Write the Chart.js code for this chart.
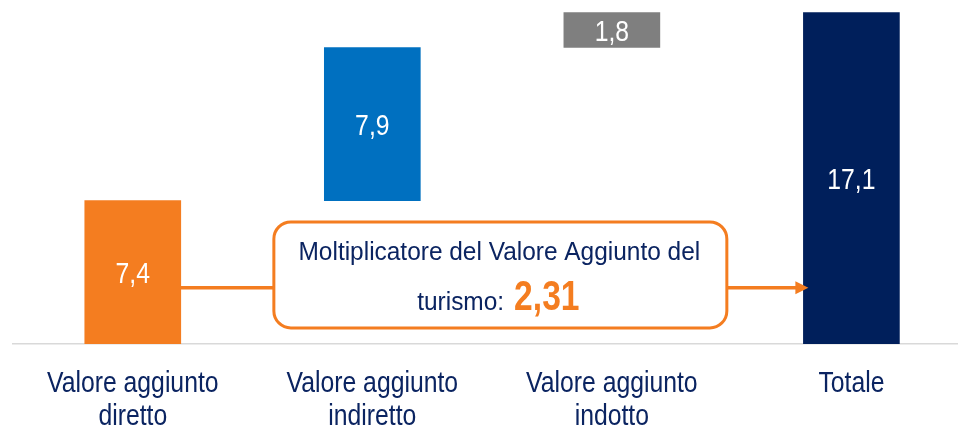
<!DOCTYPE html>
<html><head><meta charset="utf-8">
<script src="https://cdn.jsdelivr.net/npm/chart.js@4"></script>
<style>html,body{margin:0;padding:0;background:#fff;overflow:hidden}#wrap{width:958px;height:430px}</style>
</head><body><div id="wrap"><canvas id="c" width="958" height="430"></canvas></div>
<script>
// ---- data ----
const categories = [['Valore aggiunto','diretto'],['Valore aggiunto','indiretto'],['Valore aggiunto','indotto'],['Totale']];
const values = [7.4, 7.9, 1.8, 17.1];
const isTotal = [false, false, false, true];
const multiplier = '2,31';
const calloutLine1 = 'Moltiplicatore del Valore Aggiunto del';
const calloutLine2 = 'turismo:';

// ---- styles ----
const barColors = ['#F47D20', '#0070C0', '#7F7F7F', '#001F5B'];
const NAVY = '#0B2461';
const ORANGE = '#F47D20';
const FONT = "'Liberation Sans', Arial, sans-serif";
const SQUEEZE = 0.825; // Arial-Narrow-like horizontal compression

let running = 0;
const floating = values.map((v, i) => {
  const base = isTotal[i] ? 0 : running;
  if (!isTotal[i]) running += v;
  return { x: i, y: [base, base + v] };
});
const fmt = v => String(v).replace('.', ',');

function narrowText(ctx, text, x, y, sx, align) {
  ctx.save();
  ctx.translate(x, y);
  ctx.scale(sx, 1);
  ctx.textAlign = align || 'center';
  ctx.fillText(text, 0, 0);
  ctx.restore();
}

const valueLabels = {
  id: 'valueLabels',
  afterDatasetsDraw(chart) {
    const ctx = chart.ctx;
    const meta = chart.getDatasetMeta(0);
    ctx.save();
    ctx.fillStyle = '#FFFFFF';
    ctx.font = '30px ' + FONT;
    ctx.textBaseline = 'alphabetic';
    meta.data.forEach((el, i) => {
      narrowText(ctx, fmt(values[i]), el.x, (el.y + el.base) / 2 + 11, SQUEEZE, 'center');
    });
    ctx.restore();
  }
};

const tickLabels = {
  id: 'tickLabels',
  afterDraw(chart) {
    const ctx = chart.ctx;
    const xs = chart.scales.x;
    ctx.save();
    ctx.fillStyle = NAVY;
    ctx.font = '30px ' + FONT;
    ctx.textBaseline = 'alphabetic';
    xs.ticks.forEach(t => {
      const lines = categories[t.value];
      if (!lines) return;
      const x = xs.getPixelForValue(t.value);
      lines.forEach((ln, k) => {
        narrowText(ctx, ln, x, chart.chartArea.bottom + 48 + k * 33, SQUEEZE, 'center');
      });
    });
    ctx.restore();
  }
};

const callout = {
  id: 'callout',
  afterDatasetsDraw(chart) {
    const ctx = chart.ctx;
    const xs = chart.scales.x, ys = chart.scales.y;
    const meta = chart.getDatasetMeta(0);
    const b0 = meta.data[0], b3 = meta.data[3];
    const yLine = ys.getPixelForValue(2.9);
    const left = xs.getPixelForValue(0.589), right = xs.getPixelForValue(2.48);
    const top = ys.getPixelForValue(6.3), bottom = ys.getPixelForValue(0.83);
    ctx.save();
    ctx.strokeStyle = ORANGE;
    ctx.fillStyle = ORANGE;
    ctx.lineWidth = 3.5;
    ctx.beginPath();
    ctx.moveTo(b0.x + b0.width / 2, yLine);
    ctx.lineTo(left, yLine);
    ctx.moveTo(right, yLine);
    const tip = b3.x - b3.width / 2 + 5;
    ctx.lineTo(tip - 12, yLine);
    ctx.stroke();
    ctx.beginPath();
    ctx.moveTo(tip, yLine);
    ctx.lineTo(tip - 13, yLine - 6.5);
    ctx.lineTo(tip - 13, yLine + 6.5);
    ctx.closePath();
    ctx.fill();
    // box
    ctx.beginPath();
    ctx.roundRect(left, top, right - left, bottom - top, 17);
    ctx.fillStyle = '#FFFFFF';
    ctx.fill();
    ctx.lineWidth = 3;
    ctx.stroke();
    // text
    const cx = (left + right) / 2;
    const SQ2 = 0.94;
    ctx.fillStyle = NAVY;
    ctx.textBaseline = 'alphabetic';
    ctx.font = '26px ' + FONT;
    narrowText(ctx, calloutLine1, cx - 1, top + 38, SQ2, 'center');
    const w1 = ctx.measureText(calloutLine2).width * SQ2;
    ctx.font = 'bold 42px ' + FONT;
    const w2 = ctx.measureText(multiplier).width * 0.8;
    const gap = 10;
    const startX = cx - (w1 + gap + w2) / 2 - 2;
    ctx.font = '26px ' + FONT;
    narrowText(ctx, calloutLine2, startX, top + 88, SQ2, 'left');
    ctx.font = 'bold 42px ' + FONT;
    ctx.fillStyle = ORANGE;
    narrowText(ctx, multiplier, startX + w1 + gap, top + 88, 0.8, 'left');
    ctx.restore();
  }
};

new Chart(document.getElementById('c'), {
  type: 'bar',
  data: {
    datasets: [{
      data: floating,
      backgroundColor: barColors,
      borderWidth: 0,
      barThickness: 96
    }]
  },
  options: {
    responsive: false,
    animation: false,
    devicePixelRatio: 1,
    layout: { padding: { left: 13, right: 0, top: 0, bottom: 86 } },
    plugins: { legend: { display: false }, tooltip: { enabled: false } },
    scales: {
      x: {
        type: 'linear',
        offset: false,
        min: -0.5,
        max: 3.445,
        grid: { display: false, drawTicks: false },
        border: { display: true, color: '#D9D9D9', width: 1.5 },
        ticks: {
          display: false,
          stepSize: 1,
          includeBounds: false,
          autoSkip: false,
          maxRotation: 0,
          callback: v => (Number.isInteger(v) && categories[v]) ? categories[v] : ''
        }
      },
      y: {
        display: false,
        min: 0,
        max: 17.75
      }
    }
  },
  plugins: [valueLabels, callout, tickLabels]
});
</script>
</body></html>
